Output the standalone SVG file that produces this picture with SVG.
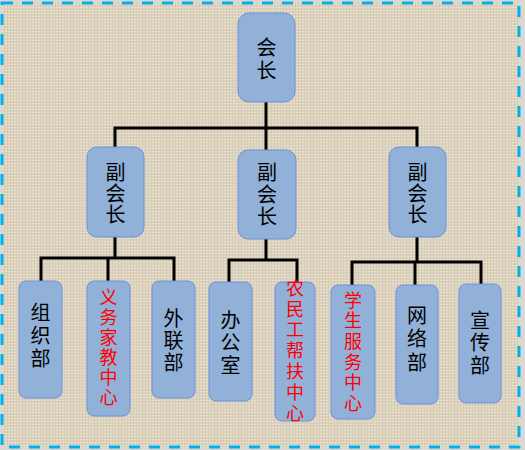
<svg xmlns="http://www.w3.org/2000/svg" width="525" height="450" viewBox="0 0 525 450">
<defs>
<pattern id="burlap" width="6" height="6" patternUnits="userSpaceOnUse">
<rect width="6" height="6" fill="#dcd2bd"/>
<path d="M0 1.5H6M0 4.5H6" stroke="#e8e0ce" stroke-width="1"/>
<path d="M1.5 0V6M4.5 0V6" stroke="#cbbfa6" stroke-width="0.8" opacity="0.6"/>
</pattern>
<style>
.box{fill:#92b1d8;stroke:#6d8fdc;stroke-width:1}
.t{font-family:"Noto Sans CJK SC","Noto Sans",sans-serif;font-size:20px;fill:#000;writing-mode:vertical-rl;text-anchor:start}
.r{fill:#ff0000;font-size:18px}
.c{fill:none;stroke:#000;stroke-width:3;stroke-linecap:square}
</style>
</defs>
<rect width="525" height="450" fill="#d9d8d2"/>
<rect x="2" y="3" width="517" height="444" fill="url(#burlap)" stroke="#00b0f0" stroke-width="3" stroke-dasharray="11 9"/>
<g id="connectors" class="c">
<path d="M266 102V128M115 128H417M115 128V147M266 128V150M417 128V147"/>
<path d="M115 237V258M41 258H174M41 258V281M108 258V281M174 258V281"/>
<path d="M266 239V260M229 260H297M229 260V282M297 260V282"/>
<path d="M417 237V262M352 262H481M352 262V285M415 262V285M481 262V284"/>
</g>
<g id="n-huizhang">
<rect class="box" x="238" y="13" width="57" height="89" rx="11"/>
<text class="t" x="266.5" y="37" letter-spacing="3">会长</text>
</g>
<g id="n-fu1">
<rect class="box" x="87" y="147" width="57" height="90" rx="10"/>
<text class="t" x="115.5" y="162" letter-spacing="1">副会长</text>
</g>
<g id="n-fu2">
<rect class="box" x="238" y="150" width="58" height="89" rx="10"/>
<text class="t" x="267" y="162" letter-spacing="2">副会长</text>
</g>
<g id="n-fu3">
<rect class="box" x="389" y="147" width="57" height="90" rx="10"/>
<text class="t" x="417.5" y="162" letter-spacing="1">副会长</text>
</g>
<g id="n-zuzhi">
<rect class="box" x="19" y="281" width="43" height="117" rx="7"/>
<text class="t" x="40.5" y="302" letter-spacing="3">组织部</text>
</g>
<g id="n-yiwu">
<rect class="box" x="87" y="281" width="43" height="135" rx="7"/>
<text class="t r" x="108.5" y="288" letter-spacing="2">义务家教中心</text>
</g>
<g id="n-wailian">
<rect class="box" x="152" y="281" width="43" height="117" rx="7"/>
<text class="t" x="173.5" y="308" letter-spacing="2">外联部</text>
</g>
<g id="n-bangong">
<rect class="box" x="209" y="282" width="43" height="119" rx="7"/>
<text class="t" x="230.5" y="310" letter-spacing="2.5">办公室</text>
</g>
<g id="n-nongmingong">
<rect class="box" x="275" y="282" width="40" height="139" rx="7"/>
<text class="t r" x="295" y="279" letter-spacing="2.8">农民工帮扶中心</text>
</g>
<g id="n-xuesheng">
<rect class="box" x="331" y="285" width="44" height="134" rx="7"/>
<text class="t r" x="353" y="291" letter-spacing="2.6">学生服务中心</text>
</g>
<g id="n-wangluo">
<rect class="box" x="396" y="285" width="42" height="119" rx="7"/>
<text class="t" x="417" y="305" letter-spacing="3.5">网络部</text>
</g>
<g id="n-xuanchuan">
<rect class="box" x="459" y="284" width="42" height="119" rx="7"/>
<text class="t" x="480" y="310" letter-spacing="2.5">宣传部</text>
</g>
</svg>
